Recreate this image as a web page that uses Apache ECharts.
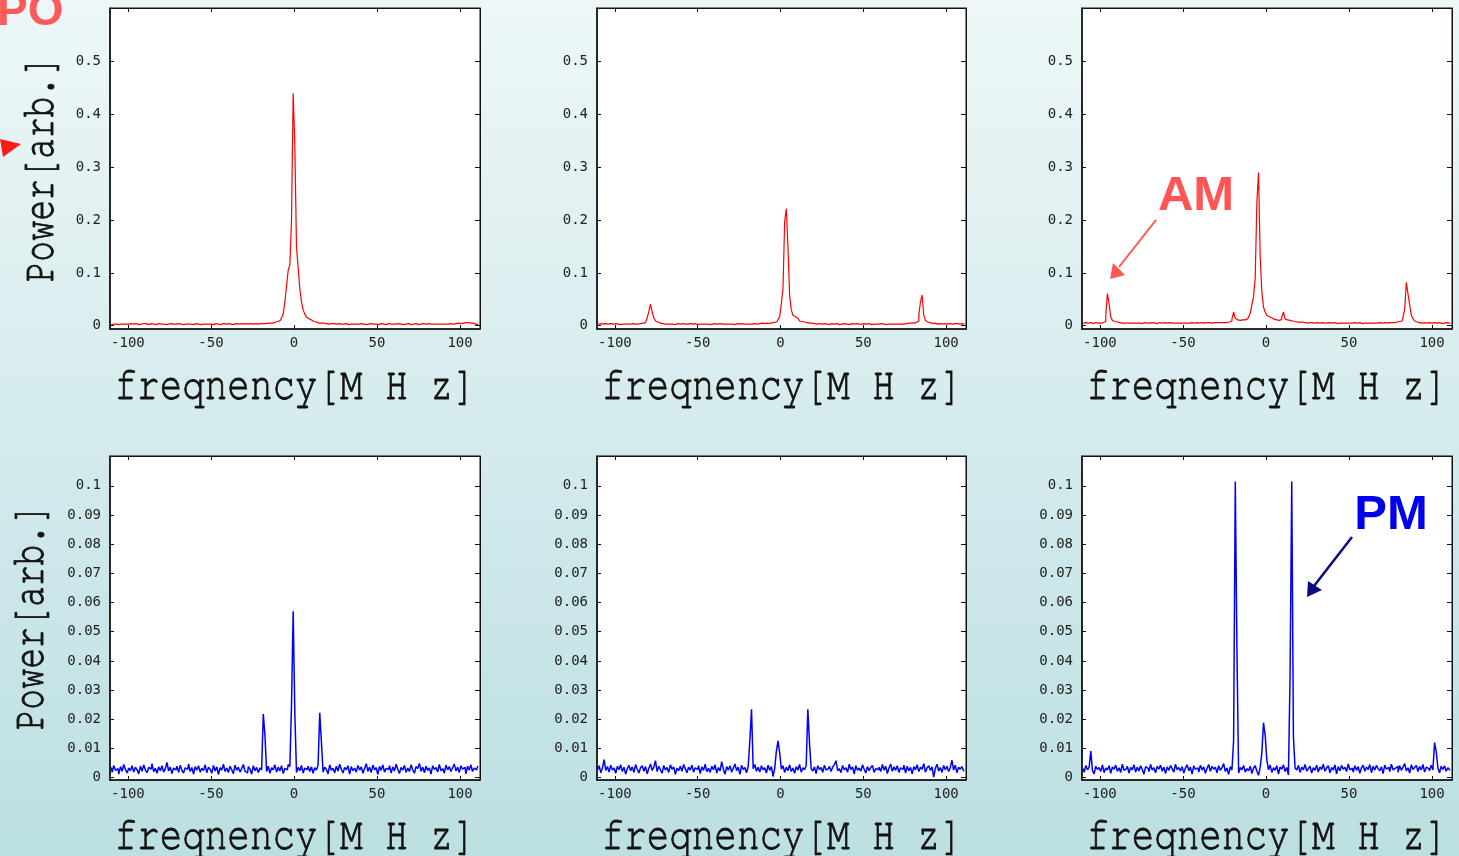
<!DOCTYPE html>
<html><head><meta charset="utf-8">
<script src="https://cdn.jsdelivr.net/npm/echarts@6/dist/echarts.min.js"></script>
<style>html,body{margin:0;padding:0;background:#d8ecef;overflow:hidden}#c{width:1459px;height:856px}</style>
</head><body><div id="c"></div>
<script>
// frequency grid [MHz]
const freq = [
-110,-109,-108,-107,-106,-105,-104,-103,-102,-101,
-100,-99,-98,-97,-96,-95,-94,-93,-92,-91,
-90,-89,-88,-87,-86,-85,-84,-83,-82,-81,
-80,-79,-78,-77,-76,-75,-74,-73,-72,-71,
-70,-69,-68,-67,-66,-65,-64,-63,-62,-61,
-60,-59,-58,-57,-56,-55,-54,-53,-52,-51,
-50,-49,-48,-47,-46,-45,-44,-43,-42,-41,
-40,-39,-38,-37,-36,-35,-34,-33,-32,-31,
-30,-29,-28,-27,-26,-25,-24,-23,-22,-21,
-20,-19,-18,-17,-16,-15,-14,-13,-12,-11,
-10,-9,-8,-7,-6,-5,-4,-3,-2,-1,
0,1,2,3,4,5,6,7,8,9,
10,11,12,13,14,15,16,17,18,19,
20,21,22,23,24,25,26,27,28,29,
30,31,32,33,34,35,36,37,38,39,
40,41,42,43,44,45,46,47,48,49,
50,51,52,53,54,55,56,57,58,59,
60,61,62,63,64,65,66,67,68,69,
70,71,72,73,74,75,76,77,78,79,
80,81,82,83,84,85,86,87,88,89,
90,91,92,93,94,95,96,97,98,99,
100,101,102,103,104,105,106,107,108,109,
110,111];

// top row (red) : power [arb.]
const amTopLeft = [
.002,.003,.004,.003,.002,.004,.003,.003,.005,.003,
.003,.002,.004,.003,.003,.004,.002,.003,.003,.004,
.003,.004,.002,.003,.004,.003,.003,.002,.004,.003,
.003,.003,.004,.002,.003,.003,.004,.003,.002,.003,
.004,.003,.003,.002,.004,.003,.003,.004,.003,.002,
.003,.004,.003,.003,.002,.003,.004,.003,.003,.004,
.003,.002,.003,.004,.003,.003,.002,.004,.003,.003,
.004,.003,.003,.002,.003,.004,.003,.003,.004,.003,
.003,.004,.003,.003,.004,.003,.004,.004,.003,.004,
.004,.004,.003,.004,.005,.004,.005,.005,.006,.007,
.008,.009,.011,.015,.022,.045,.075,.105,.115,.2,
.44,.34,.15,.11,.07,.045,.03,.022,.016,.013,
.011,.009,.008,.007,.006,.005,.005,.004,.005,.004,
.004,.003,.004,.003,.004,.003,.003,.004,.003,.003,
.003,.004,.003,.002,.003,.004,.003,.003,.002,.003,
.004,.003,.003,.002,.003,.003,.004,.002,.003,.003,
.003,.002,.004,.003,.003,.002,.003,.004,.003,.002,
.003,.003,.002,.004,.003,.003,.002,.003,.003,.004,
.002,.003,.003,.004,.003,.002,.003,.003,.004,.003,
.003,.004,.003,.002,.003,.003,.004,.003,.003,.004,
.003,.003,.004,.003,.004,.003,.003,.004,.004,.005,
.004,.005,.005,.006,.005,.006,.005,.004,.005,.003,
.002,.002];

const amTopMiddle = [
.003,.004,.003,.003,.004,.002,.003,.004,.003,.003,
.004,.003,.003,.002,.004,.003,.003,.004,.003,.003,
.003,.004,.003,.003,.003,.004,.004,.005,.006,.008,
.015,.027,.041,.026,.015,.009,.007,.005,.004,.004,
.003,.004,.003,.003,.004,.003,.002,.003,.004,.003,
.003,.004,.003,.002,.003,.004,.003,.003,.004,.003,
.002,.003,.004,.003,.003,.004,.003,.002,.003,.003,
.004,.003,.003,.004,.002,.003,.003,.004,.003,.003,
.004,.003,.002,.003,.004,.003,.003,.004,.003,.004,
.003,.003,.004,.003,.004,.004,.003,.004,.004,.005,
.004,.005,.005,.004,.005,.006,.006,.007,.008,.012,
.017,.042,.07,.197,.222,.149,.058,.03,.02,.017,
.014,.011,.009,.008,.007,.006,.006,.005,.004,.005,
.004,.004,.003,.004,.003,.003,.004,.003,.003,.002,
.003,.004,.003,.003,.004,.002,.003,.003,.004,.003,
.003,.002,.003,.004,.003,.003,.004,.003,.002,.003,
.004,.003,.003,.004,.003,.002,.003,.004,.003,.003,
.003,.004,.003,.003,.002,.003,.004,.003,.003,.004,
.003,.003,.004,.003,.003,.004,.004,.005,.004,.005,
.005,.005,.006,.009,.02,.045,.058,.02,.01,.007,
.006,.005,.004,.005,.004,.003,.004,.003,.003,.004,
.003,.003,.004,.003,.003,.004,.003,.004,.003,.003,
.004,.003];

const amTopRight = [
.005,.006,.004,.005,.006,.005,.004,.006,.005,.005,
.005,.006,.006,.008,.019,.061,.042,.017,.01,.008,
.007,.006,.006,.005,.006,.005,.005,.006,.005,.005,
.006,.005,.005,.006,.005,.004,.005,.006,.005,.005,
.005,.006,.005,.005,.004,.005,.006,.005,.005,.006,
.005,.005,.006,.005,.004,.005,.005,.006,.005,.005,
.006,.005,.005,.004,.005,.006,.005,.005,.006,.005,
.005,.006,.005,.005,.006,.005,.006,.005,.006,.006,
.006,.005,.006,.006,.007,.006,.006,.007,.007,.009,
.013,.026,.014,.011,.01,.01,.011,.011,.012,.013,
.017,.023,.04,.055,.09,.234,.29,.13,.064,.035,
.026,.02,.017,.015,.013,.012,.011,.011,.01,.012,
.016,.026,.013,.011,.01,.009,.009,.008,.008,.007,
.007,.006,.007,.006,.006,.005,.006,.005,.006,.005,
.005,.006,.005,.005,.006,.005,.004,.005,.006,.005,
.005,.006,.005,.004,.005,.006,.005,.005,.006,.005,
.005,.004,.005,.006,.005,.005,.006,.005,.004,.005,
.006,.005,.005,.006,.005,.005,.004,.005,.006,.005,
.005,.006,.005,.005,.006,.005,.006,.006,.007,.007,
.008,.008,.009,.017,.03,.082,.06,.04,.02,.013,
.009,.007,.006,.006,.005,.006,.005,.005,.006,.005,
.005,.006,.005,.005,.006,.005,.004,.005,.005,.006,
.005,.004];

// bottom row (blue) : power [arb.]
const pmBottomLeft = [
.0035,.0018,.0042,.0025,.0031,.0012,.0038,.0022,.0045,.0028,
.0016,.0033,.0024,.0041,.0019,.0036,.0027,.0013,.0039,.0022,
.0044,.0026,.0017,.0035,.0029,.0048,.0021,.0032,.0015,.0037,
.0024,.0041,.0019,.0031,.0052,.0023,.0036,.0014,.0033,.0027,
.0039,.0018,.0043,.0025,.0016,.0034,.0028,.0047,.0021,.0035,
.0012,.0038,.0026,.0041,.0019,.0032,.0024,.0044,.0017,.0036,
.0029,.0015,.0042,.0023,.0037,.0011,.0034,.0026,.0046,.0021,
.0033,.0018,.0039,.0027,.0014,.0043,.0025,.0036,.0019,.0031,
.0045,.0022,.0016,.0038,.0029,.0012,.0041,.0024,.0035,.0018,
.0033,.0026,.0218,.0146,.0021,.0039,.0015,.0034,.0027,.0044,
.0019,.0036,.0023,.0041,.0014,.0032,.0027,.0045,.0038,.025,
.057,.022,.0018,.0035,.0024,.0042,.0016,.0033,.0028,.0039,
.0021,.0037,.0015,.0034,.0026,.0043,.0222,.0123,.0019,.0036,
.0028,.0013,.0044,.0025,.0032,.0017,.0039,.0023,.0046,.0029,
.0016,.0035,.0027,.0041,.0012,.0038,.0024,.0033,.0019,.0042,
.0026,.0037,.0015,.0031,.0048,.0022,.0036,.0018,.0043,.0027,
.0034,.0011,.0039,.0025,.0044,.0019,.0032,.0028,.0041,.0016,
.0037,.0023,.0046,.0029,.0014,.0035,.0026,.0042,.0018,.0033,
.0021,.0044,.0027,.0015,.0038,.0031,.0049,.0022,.0036,.0017,
.0039,.0025,.0033,.0012,.0041,.0028,.0035,.0019,.0045,.0024,
.0031,.0016,.0043,.0027,.0038,.0021,.0034,.0047,.0023,.0036,
.0018,.0041,.0029,.0035,.0013,.0039,.0026,.0044,.0021,.0033,
.0027,.0038];

const pmBottomMiddle = [
.0028,.0041,.0017,.0034,.0062,.0025,.0038,.0019,.0043,.0026,
.0033,.0015,.0039,.0027,.0044,.0021,.0036,.0012,.0031,.0042,
.0024,.0037,.0018,.0045,.0029,.0016,.0034,.0041,.0022,.0038,
.0013,.0032,.0047,.0025,.0036,.0058,.0021,.0039,.0027,.0015,
.0042,.0026,.0035,.0018,.0044,.0029,.0037,.0011,.0033,.0024,
.0039,.0022,.0045,.0031,.0017,.0036,.0026,.0043,.0019,.0034,
.0028,.0041,.0014,.0037,.0025,.0046,.0021,.0032,.0018,.0039,
.0027,.0044,.0016,.0035,.0023,.0055,.0029,.0012,.0038,.0026,
.0041,.0019,.0033,.0047,.0024,.0036,.0011,.0042,.0028,.0035,
.0017,.0039,.0129,.0234,.0031,.0045,.0022,.0036,.0019,.0041,
.0027,.0034,.0016,.0043,.0025,.0038,.0004,.0032,.009,.0126,
.0085,.0029,.0041,.0018,.0036,.0024,.0044,.0021,.0033,.0015,
.0038,.0026,.0045,.0019,.0034,.0027,.0042,.0234,.0119,.0031,
.0023,.0037,.0014,.0041,.0028,.0035,.0018,.0043,.0026,.0032,
.0039,.0021,.0036,.0045,.0058,.0024,.0031,.0017,.0042,.0027,
.0034,.0019,.0046,.0028,.0037,.0013,.0041,.0025,.0033,.0022,
.0044,.0029,.0016,.0038,.0024,.0035,.0042,.0018,.0031,.0027,
.0036,.0021,.0045,.0026,.0039,.0014,.0033,.0047,.0022,.0037,
.0025,.0041,.0018,.0034,.0028,.0043,.0016,.0039,.0024,.0035,
.0013,.0038,.0027,.0044,.0021,.0036,.0029,.0048,.0019,.0033,
.0041,.0025,.0037,.0002,.0032,.0046,.0023,.0035,.0018,.0042,
.0027,.0039,.0021,.0034,.006,.0026,.0043,.0017,.0036,.0029,
.0038,.0024];

const pmBottomRight = [
.0031,.0018,.0042,.0027,.0036,.0091,.0024,.0013,.0039,.0028,
.0035,.0021,.0044,.0017,.0033,.0026,.0041,.0015,.0037,.0029,
.0043,.0022,.0034,.0018,.0046,.0025,.0031,.0039,.0016,.0035,
.0027,.0044,.0019,.0036,.0023,.0041,.0028,.0012,.0038,.0032,
.0021,.0045,.0026,.0034,.0017,.0039,.0029,.0043,.0022,.0036,
.0014,.0037,.0025,.0042,.0031,.0019,.0046,.0027,.0035,.0023,
.0038,.0016,.0033,.0044,.0024,.0036,.0012,.0041,.0028,.0034,
.0019,.0043,.0026,.0037,.0015,.0032,.0045,.0022,.0039,.0029,
.0036,.0017,.0041,.0025,.0034,.0048,.0021,.0033,.0011,.0038,
.0026,.0129,.1015,.0437,.0016,.0035,.0027,.0042,.0019,.0031,
.0024,.0039,.0014,.0033,.0041,.0022,.0008,.0036,.0085,.0188,
.0146,.006,.0027,.0043,.0018,.0034,.0025,.0041,.0012,.0037,
.0029,.0044,.0021,.0035,.0009,.035,.1015,.014,.0033,.0026,
.0042,.0018,.0036,.0027,.0045,.0023,.0031,.0039,.0016,.0034,
.0025,.0043,.0019,.0037,.0028,.0046,.0022,.0033,.0041,.0017,
.0035,.0026,.0044,.0013,.0038,.0024,.0042,.0029,.0036,.0021,
.0047,.0027,.0033,.0019,.0041,.0025,.0038,.0015,.0034,.0043,
.0022,.0036,.0028,.0045,.0017,.0039,.0026,.0042,.0031,.0024,
.0037,.0014,.0043,.0029,.0035,.0021,.0046,.0027,.0033,.0039,
.0018,.0041,.0025,.0036,.0048,.0023,.0034,.0016,.0044,.0028,
.0035,.0042,.0021,.0038,.0027,.0045,.0019,.0036,.0031,.0024,
.0043,.0026,.012,.0089,.0033,.0017,.0039,.0028,.0041,.0022,
.0034,.0027];

// tick labels
const xTicks = [-100, -50, 0, 50, 100];
const yTicksTop = [0, 0.1, 0.2, 0.3, 0.4, 0.5];
const yTicksBottom = [0, 0.01, 0.02, 0.03, 0.04, 0.05, 0.06, 0.07, 0.08, 0.09, 0.1];

const xName = 'freqnency[M H z]';
const yName = 'Power[arb.]';

const RED = '#ff0000', BLUE = '#0000ff';
const MONO = '"Nimbus Mono PS", "FreeMono", "Courier 10 Pitch", "Liberation Mono", "Courier New", monospace';
const cols = [{left:110, width:370, cx:295}, {left:597, width:369, cx:782}, {left:1082, width:370, cx:1267}];
const rows = [
  {top:8, height:321, min:-0.0062, max:0.6015, ticks:yTicksTop, color:RED, lw:1.2, nameY:385},
  {top:456, height:324, min:-0.0008, max:0.1102, ticks:yTicksBottom, color:BLUE, lw:1.5, nameY:835}
];
const panelData = [[amTopLeft, amTopMiddle, amTopRight], [pmBottomLeft, pmBottomMiddle, pmBottomRight]];

const grids = [], xAxes = [], yAxes = [], series = [], graphics = [];
const tickFont = {fontFamily:'"DejaVu Sans Mono", monospace', fontSize:14, color:'#222'};
const axisCol = '#111';
const nameStyle = {font:'47px ' + MONO, fill:'#111', stroke:'#111', lineWidth:0.9,
  align:'center', verticalAlign:'middle', textAlign:'center', textVerticalAlign:'middle'};
rows.forEach((r, ri) => {
  cols.forEach((c, ci) => {
    const gi = grids.length;
    grids.push({left:c.left, top:r.top, width:c.width, height:r.height, show:true,
      backgroundColor:'#ffffff', borderColor:axisCol, borderWidth:1, containLabel:false});
    const xbase = {gridIndex:gi, type:'value', min:-110.8, max:112, splitLine:{show:false}};
    xAxes.push(Object.assign({}, xbase, {position:'bottom',
      axisLine:{show:true, onZero:false, lineStyle:{color:axisCol, width:1.6}},
      axisTick:{show:true, inside:true, length:4, customValues:xTicks, lineStyle:{color:axisCol}},
      axisLabel:Object.assign({show:true, margin:7, customValues:xTicks}, tickFont)}));
    xAxes.push(Object.assign({}, xbase, {position:'top',
      axisLine:{show:true, onZero:false, lineStyle:{color:axisCol, width:1}},
      axisTick:{show:true, inside:true, length:4, customValues:xTicks, lineStyle:{color:axisCol}},
      axisLabel:{show:false}}));
    const ybase = {gridIndex:gi, type:'value', min:r.min, max:r.max, splitLine:{show:false}};
    yAxes.push(Object.assign({}, ybase, {position:'left',
      axisLine:{show:true, onZero:false, lineStyle:{color:axisCol, width:1.6}},
      axisTick:{show:true, inside:true, length:4, customValues:r.ticks, lineStyle:{color:axisCol}},
      axisLabel:Object.assign({show:true, margin:9, customValues:r.ticks}, tickFont)}));
    yAxes.push(Object.assign({}, ybase, {position:'right',
      axisLine:{show:true, onZero:false, lineStyle:{color:axisCol, width:1}},
      axisTick:{show:true, inside:true, length:5, customValues:r.ticks, lineStyle:{color:axisCol}},
      axisLabel:{show:false}}));
    const p = panelData[ri][ci];
    series.push({type:'line', xAxisIndex:2*gi, yAxisIndex:2*gi, step:'middle',
      symbol:'none', showSymbol:false, animation:false, silent:true,
      data:freq.map((f, j) => [f, p[j]]),
      lineStyle:{width:r.lw, color:r.color}, itemStyle:{color:r.color}});
    // x axis name
    graphics.push({type:'text', x:c.cx, y:r.nameY, scaleX:0.8, z:100,
      style:Object.assign({text:xName}, nameStyle)});
  });
});
// y axis names
[{x:39, y:169}, {x:29, y:617}].forEach(p => {
  graphics.push({type:'text', x:p.x, y:p.y, rotation:Math.PI/2, scaleX:0.73, z:100,
    style:Object.assign({text:yName}, nameStyle)});
});
// annotations
graphics.push(
  {type:'text', x:-3, y:12, z:100, style:{text:'PO', font:'bold 46px "Liberation Sans", Arial, sans-serif', fill:'#ff5a5a', align:'left', verticalAlign:'middle', textAlign:'left', textVerticalAlign:'middle'}},
  {type:'polygon', z:100, shape:{points:[[0,139],[21,144],[3,157]]}, style:{fill:'#ff1a1a'}},
  {type:'text', x:1196, y:196, z:100, style:{text:'AM', font:'bold 49px "Liberation Sans", Arial, sans-serif', fill:'#ff5555', align:'center', verticalAlign:'middle', textAlign:'center', textVerticalAlign:'middle'}},
  {type:'line', z:100, shape:{x1:1156, y1:220, x2:1119, y2:267}, style:{stroke:'#ff5555', lineWidth:2}},
  {type:'polygon', z:100, shape:{points:[[1110,279],[1113,263],[1125,275]]}, style:{fill:'#ff5555'}},
  {type:'text', x:1391, y:515, z:100, style:{text:'PM', font:'bold 49px "Liberation Sans", Arial, sans-serif', fill:'#0000ee', align:'center', verticalAlign:'middle', textAlign:'center', textVerticalAlign:'middle'}},
  {type:'line', z:100, shape:{x1:1352, y1:537, x2:1314, y2:586}, style:{stroke:'#0a0a80', lineWidth:2.5}},
  {type:'polygon', z:100, shape:{points:[[1307,597],[1308,581],[1322,590]]}, style:{fill:'#0a0a80'}}
);

const chart = echarts.init(document.getElementById('c'), null, {renderer:'canvas'});
chart.setOption({
  animation:false,
  backgroundColor:{type:'linear', x:0, y:0, x2:0, y2:1,
    colorStops:[{offset:0, color:'#eef7f8'}, {offset:1, color:'#bcdfe2'}]},
  grid:grids, xAxis:xAxes, yAxis:yAxes, series:series, graphic:{elements:graphics}
});
</script>
</body></html>
